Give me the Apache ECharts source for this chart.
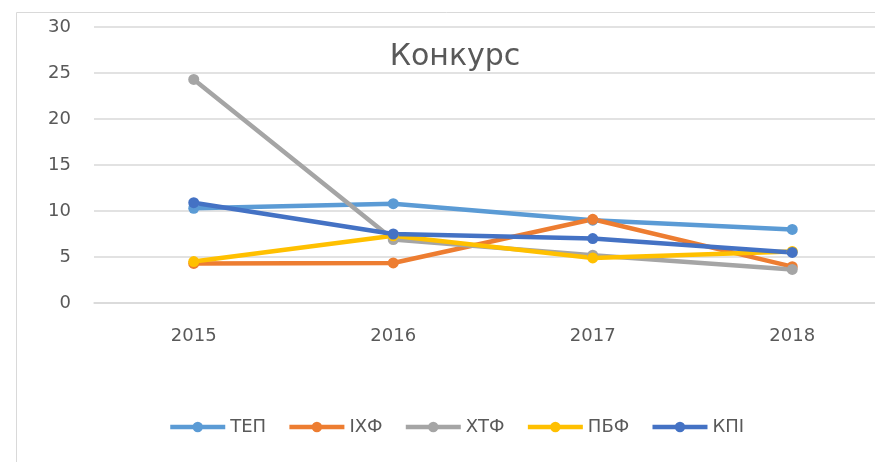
<!DOCTYPE html>
<html>
<head>
<meta charset="utf-8">
<script src="https://cdn.jsdelivr.net/npm/echarts@6/dist/echarts.min.js"></script>
<style>html,body{margin:0;padding:0;background:#fff}#c{width:875px;height:462px}</style>
</head>
<body>
<div id="c"></div>
<script>
var categories = ['2015', '2016', '2017', '2018'];
var seriesNames = ['ТЕП', 'ІХФ', 'ХТФ', 'ПБФ', 'КПІ'];
var tep = [10.3, 10.8, 9.0, 8.0];
var ihf = [4.3, 4.35, 9.1, 3.95];
var htf = [24.3, 6.9, 5.2, 3.65];
var pbf = [4.5, 7.3, 4.9, 5.6];
var kpi = [10.9, 7.5, 7.0, 5.5];
var yTicks = [0, 5, 10, 15, 20, 25, 30];
var colors = ['#5B9BD5', '#ED7D31', '#A5A5A5', '#FFC000', '#4472C4'];
var values = [tep, ihf, htf, pbf, kpi];

var font = 'DejaVu Sans';
var chart = echarts.init(document.getElementById('c'), null, {renderer: 'canvas'});
chart.setOption({
  animation: false,
  color: colors,
  title: {
    text: 'Конкурс',
    left: 450, top: 37,
    textAlign: 'center',
    textStyle: {fontFamily: font, fontSize: 30, fontWeight: 'normal', color: '#595959'}
  },
  graphic: [{
    type: 'rect', z: -10,
    shape: {x: 16.5, y: 12.5, width: 900, height: 500},
    style: {fill: 'none', stroke: '#D9D9D9', lineWidth: 1}
  }],
  legend: {
    left: 163, top: 413,
    itemWidth: 55, itemHeight: 13, itemGap: 21,
    data: seriesNames,
    lineStyle: {width: 4.5},
    textStyle: {fontFamily: font, fontSize: 18, color: '#595959'}
  },
  grid: {left: 94, width: 798, top: 27, bottom: 159, containLabel: false, outerBoundsMode: 'none'},
  xAxis: {
    type: 'category',
    data: categories,
    boundaryGap: true,
    axisLine: {show: true, lineStyle: {color: '#D9D9D9', width: 1.5}},
    axisTick: {show: false},
    axisLabel: {fontFamily: font, fontSize: 18, color: '#595959', margin: 24}
  },
  yAxis: {
    type: 'value',
    min: yTicks[0], max: yTicks[yTicks.length - 1], interval: 5,
    axisLine: {show: false},
    axisTick: {show: false},
    splitLine: {lineStyle: {color: '#D9D9D9', width: 1.5}},
    axisLabel: {fontFamily: font, fontSize: 18, color: '#595959', margin: 23}
  },
  series: seriesNames.map(function (n, i) {
    return {
      name: n, type: 'line', data: values[i],
      symbol: 'circle', symbolSize: 11,
      lineStyle: {width: 4.5, color: colors[i]},
      itemStyle: {color: colors[i]}
    };
  })
});
</script>
</body>
</html>
